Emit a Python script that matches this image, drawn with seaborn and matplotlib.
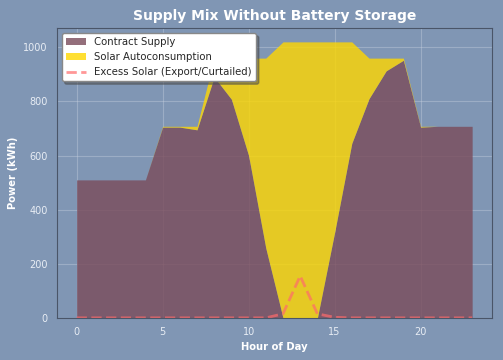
import pandas as pd
import matplotlib
matplotlib.use("Agg")
import matplotlib.pyplot as plt
import seaborn as sns

# hourly data
hours = list(range(24))
contract = [510, 510, 510, 510, 510, 705, 705, 695, 890, 808, 600, 258,
            0, 0, 0, 315, 645, 810, 913, 952, 705, 708, 708, 708]
autocons = [0, 0, 0, 0, 0, 3, 3, 13, 70, 152, 360, 702,
            1020, 1020, 1020, 705, 375, 150, 47, 8, 3, 0, 0, 0]
excess = [0, 0, 0, 0, 0, 0, 0, 0, 0, 0, 0, 0,
          15, 155, 15, 2, 0, 0, 0, 0, 0, 0, 0, 0]

df = pd.DataFrame({"hour": hours, "contract": contract,
                   "autocons": autocons, "excess": excess})

bg = "#8096B4"
sns.set_style("whitegrid", {"axes.facecolor": bg, "figure.facecolor": bg,
                            "grid.color": "#C8D2E0", "axes.edgecolor": "#4A5568"})
plt.rcParams['font.family'] = ['DejaVu Sans']

fig, ax = plt.subplots(figsize=(5.03, 3.6), dpi=100)
fig.subplots_adjust(left=0.113, right=0.978, top=0.922, bottom=0.117)

ax.stackplot(df["hour"], df["contract"], df["autocons"],
             labels=["Contract Supply", "Solar Autoconsumption"],
             colors=["#7A4B5A", "#FFD700"], alpha=0.8, linewidth=0)
sns.lineplot(data=df, x="hour", y="excess", ax=ax, color="#FF6B6B",
             linestyle="--", linewidth=2, alpha=0.7,
             label="Excess Solar (Export/Curtailed)")

ax.set_title("Supply Mix Without Battery Storage", color="white",
             fontweight="bold", fontsize=10)
ax.set_xlabel("Hour of Day", color="white", fontweight="bold", fontsize=7.2)
ax.set_ylabel("Power (kWh)", color="white", fontweight="bold", fontsize=7.2)
ax.tick_params(colors="#E8EDF4", labelsize=7, length=3)
ax.grid(True, alpha=0.4)
ax.set_xticks([0, 5, 10, 15, 20])

leg = ax.legend(loc="upper left", fontsize=7.3, frameon=True, shadow=True,
                facecolor="white", framealpha=1)
leg.get_frame().set_edgecolor("#888888")

plt.savefig("out.png", dpi=100, facecolor=bg)
